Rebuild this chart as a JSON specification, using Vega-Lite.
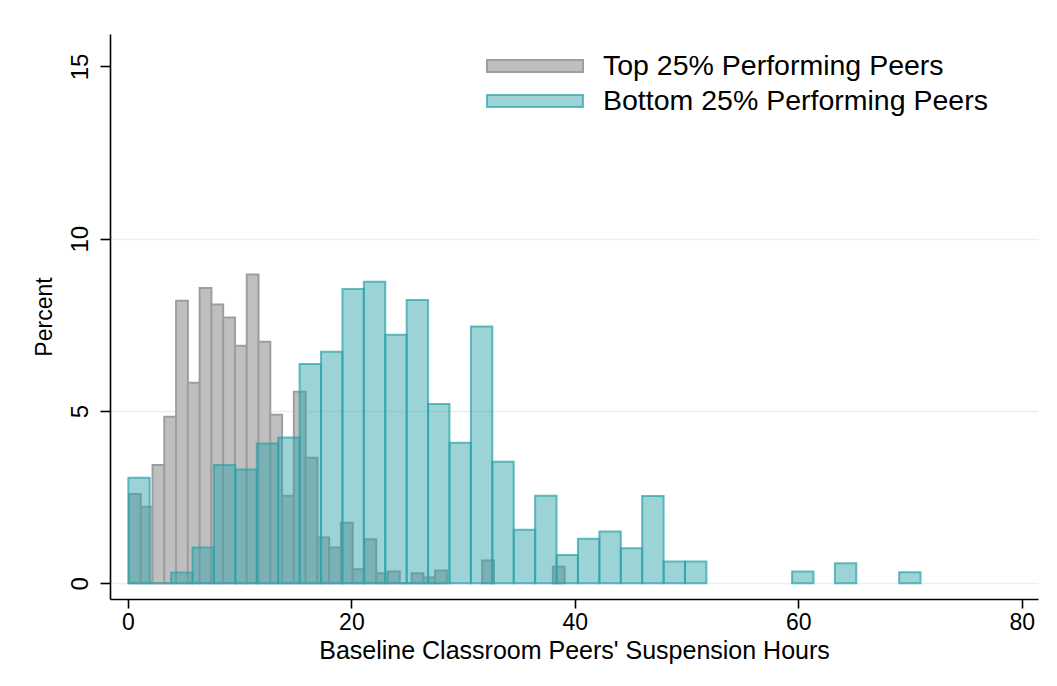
{
  "$schema": "https://vega.github.io/schema/vega-lite/v6.json",
  "width": 928,
  "height": 565,
  "autosize": {"type": "none"},
  "padding": {"left": 110, "top": 34, "right": 19, "bottom": 87},
  "background": "white",
  "view": {"stroke": null},
  "config": {
    "font": "Liberation Sans",
    "axis": {"labelColor": "black", "titleColor": "black", "titleFontWeight": "normal", "domainColor": "black", "tickColor": "black", "domainWidth": 1.6, "tickWidth": 1.6}
  },
  "data": {
    "values": [
      {"group": "Top 25% Performing Peers", "x0": 0.09, "x1": 1.144, "pct": 2.59},
      {"group": "Top 25% Performing Peers", "x0": 1.144, "x1": 2.198, "pct": 2.22},
      {"group": "Top 25% Performing Peers", "x0": 2.198, "x1": 3.252, "pct": 3.43},
      {"group": "Top 25% Performing Peers", "x0": 3.252, "x1": 4.306, "pct": 4.83},
      {"group": "Top 25% Performing Peers", "x0": 4.306, "x1": 5.36, "pct": 8.2},
      {"group": "Top 25% Performing Peers", "x0": 5.36, "x1": 6.414, "pct": 5.82},
      {"group": "Top 25% Performing Peers", "x0": 6.414, "x1": 7.468, "pct": 8.57},
      {"group": "Top 25% Performing Peers", "x0": 7.468, "x1": 8.522, "pct": 8.09},
      {"group": "Top 25% Performing Peers", "x0": 8.522, "x1": 9.576, "pct": 7.71},
      {"group": "Top 25% Performing Peers", "x0": 9.576, "x1": 10.63, "pct": 6.89},
      {"group": "Top 25% Performing Peers", "x0": 10.63, "x1": 11.684, "pct": 8.96},
      {"group": "Top 25% Performing Peers", "x0": 11.684, "x1": 12.738, "pct": 7.01},
      {"group": "Top 25% Performing Peers", "x0": 12.738, "x1": 13.792, "pct": 4.89},
      {"group": "Top 25% Performing Peers", "x0": 13.792, "x1": 14.846, "pct": 2.54},
      {"group": "Top 25% Performing Peers", "x0": 14.846, "x1": 15.9, "pct": 5.56},
      {"group": "Top 25% Performing Peers", "x0": 15.9, "x1": 16.954, "pct": 3.64},
      {"group": "Top 25% Performing Peers", "x0": 16.954, "x1": 18.008, "pct": 1.33},
      {"group": "Top 25% Performing Peers", "x0": 18.008, "x1": 19.062, "pct": 1.04},
      {"group": "Top 25% Performing Peers", "x0": 19.062, "x1": 20.116, "pct": 1.76},
      {"group": "Top 25% Performing Peers", "x0": 20.116, "x1": 21.17, "pct": 0.41},
      {"group": "Top 25% Performing Peers", "x0": 21.17, "x1": 22.224, "pct": 1.28},
      {"group": "Top 25% Performing Peers", "x0": 22.224, "x1": 23.278, "pct": 0.29},
      {"group": "Top 25% Performing Peers", "x0": 23.278, "x1": 24.332, "pct": 0.34},
      {"group": "Top 25% Performing Peers", "x0": 24.332, "x1": 25.386, "pct": 0},
      {"group": "Top 25% Performing Peers", "x0": 25.386, "x1": 26.44, "pct": 0.29},
      {"group": "Top 25% Performing Peers", "x0": 26.44, "x1": 27.494, "pct": 0.17},
      {"group": "Top 25% Performing Peers", "x0": 27.494, "x1": 28.548, "pct": 0.37},
      {"group": "Top 25% Performing Peers", "x0": 31.71, "x1": 32.764, "pct": 0.66},
      {"group": "Top 25% Performing Peers", "x0": 38.034, "x1": 39.088, "pct": 0.48},
      {"group": "Bottom 25% Performing Peers", "x0": 0.03, "x1": 1.947, "pct": 3.06},
      {"group": "Bottom 25% Performing Peers", "x0": 1.947, "x1": 3.863, "pct": 0},
      {"group": "Bottom 25% Performing Peers", "x0": 3.863, "x1": 5.78, "pct": 0.31},
      {"group": "Bottom 25% Performing Peers", "x0": 5.78, "x1": 7.696, "pct": 1.04},
      {"group": "Bottom 25% Performing Peers", "x0": 7.696, "x1": 9.613, "pct": 3.43},
      {"group": "Bottom 25% Performing Peers", "x0": 9.613, "x1": 11.53, "pct": 3.3},
      {"group": "Bottom 25% Performing Peers", "x0": 11.53, "x1": 13.446, "pct": 4.06},
      {"group": "Bottom 25% Performing Peers", "x0": 13.446, "x1": 15.363, "pct": 4.23},
      {"group": "Bottom 25% Performing Peers", "x0": 15.363, "x1": 17.279, "pct": 6.36},
      {"group": "Bottom 25% Performing Peers", "x0": 17.279, "x1": 19.196, "pct": 6.72},
      {"group": "Bottom 25% Performing Peers", "x0": 19.196, "x1": 21.113, "pct": 8.54},
      {"group": "Bottom 25% Performing Peers", "x0": 21.113, "x1": 23.029, "pct": 8.75},
      {"group": "Bottom 25% Performing Peers", "x0": 23.029, "x1": 24.946, "pct": 7.21},
      {"group": "Bottom 25% Performing Peers", "x0": 24.946, "x1": 26.862, "pct": 8.22},
      {"group": "Bottom 25% Performing Peers", "x0": 26.862, "x1": 28.779, "pct": 5.2},
      {"group": "Bottom 25% Performing Peers", "x0": 28.779, "x1": 30.695, "pct": 4.08},
      {"group": "Bottom 25% Performing Peers", "x0": 30.695, "x1": 32.612, "pct": 7.45},
      {"group": "Bottom 25% Performing Peers", "x0": 32.612, "x1": 34.529, "pct": 3.53},
      {"group": "Bottom 25% Performing Peers", "x0": 34.529, "x1": 36.445, "pct": 1.55},
      {"group": "Bottom 25% Performing Peers", "x0": 36.445, "x1": 38.362, "pct": 2.54},
      {"group": "Bottom 25% Performing Peers", "x0": 38.362, "x1": 40.278, "pct": 0.82},
      {"group": "Bottom 25% Performing Peers", "x0": 40.278, "x1": 42.195, "pct": 1.29},
      {"group": "Bottom 25% Performing Peers", "x0": 42.195, "x1": 44.112, "pct": 1.5},
      {"group": "Bottom 25% Performing Peers", "x0": 44.112, "x1": 46.028, "pct": 1.02},
      {"group": "Bottom 25% Performing Peers", "x0": 46.028, "x1": 47.945, "pct": 2.53},
      {"group": "Bottom 25% Performing Peers", "x0": 47.945, "x1": 49.861, "pct": 0.63},
      {"group": "Bottom 25% Performing Peers", "x0": 49.861, "x1": 51.778, "pct": 0.63},
      {"group": "Bottom 25% Performing Peers", "x0": 59.445, "x1": 61.362, "pct": 0.34},
      {"group": "Bottom 25% Performing Peers", "x0": 63.278, "x1": 65.195, "pct": 0.58},
      {"group": "Bottom 25% Performing Peers", "x0": 69.028, "x1": 70.944, "pct": 0.32}
    ]
  },
  "mark": {"type": "bar", "strokeWidth": 2},
  "encoding": {
    "x": {
      "field": "x0", "type": "quantitative",
      "scale": {"domain": [-1.61, 81.46], "nice": false, "zero": false},
      "axis": {
        "values": [0, 20, 40, 60, 80], "grid": false,
        "title": "Baseline Classroom Peers' Suspension Hours",
        "labelFontSize": 23, "titleFontSize": 25, "tickSize": 9,
        "labelPadding": 3, "titlePadding": 4, "labelFlush": false
      }
    },
    "x2": {"field": "x1"},
    "y": {
      "field": "pct", "type": "quantitative",
      "scale": {"domain": [-0.456, 15.94], "nice": false, "zero": false},
      "axis": {
        "values": [0, 5, 10, 15], "title": "Percent",
        "labelFontSize": 24, "titleFontSize": 23, "tickSize": 10,
        "labelAngle": -90, "labelAlign": "center", "labelBaseline": "bottom",
        "labelPadding": 8, "titlePadding": 12, "labelFlush": false,
        "grid": true, "gridColor": "#e6eff1", "gridWidth": 1.6,
        "gridOpacity": {"condition": {"test": "datum.value >= 15", "value": 0}, "value": 1}
      }
    },
    "y2": {"datum": 0},
    "fill": {
      "field": "group", "type": "nominal",
      "scale": {"domain": ["Top 25% Performing Peers", "Bottom 25% Performing Peers"], "range": ["#bfbfbf", "rgba(45,163,170,0.48)"]},
      "legend": {
        "title": null, "orient": "none", "legendX": 376, "legendY": 17,
        "symbolType": "M-1,-0.125H1V0.125H-1Z", "symbolSize": 9216, "symbolStrokeWidth": 2,
        "labelFontSize": 28.5, "labelColor": "black", "labelOffset": 19, "labelLimit": 600,
        "clipHeight": 30, "rowPadding": 5, "padding": 0, "symbolOffset": 0
      }
    },
    "stroke": {
      "field": "group", "type": "nominal",
      "scale": {"domain": ["Top 25% Performing Peers", "Bottom 25% Performing Peers"], "range": ["#9e9e9e", "rgba(45,163,170,0.72)"]},
      "legend": {
        "title": null, "orient": "none", "legendX": 376, "legendY": 17,
        "symbolType": "M-1,-0.125H1V0.125H-1Z", "symbolSize": 9216, "symbolStrokeWidth": 2,
        "labelFontSize": 28.5, "labelColor": "black", "labelOffset": 19, "labelLimit": 600,
        "clipHeight": 30, "rowPadding": 5, "padding": 0, "symbolOffset": 0
      }
    }
  }
}
